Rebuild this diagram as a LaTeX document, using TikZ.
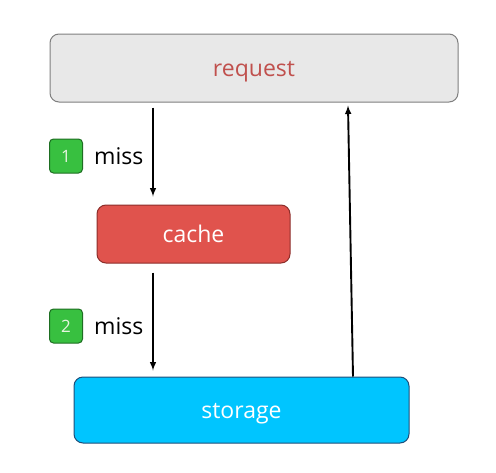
\documentclass[tikz,border=0pt]{standalone}
\usepackage{fontspec}
\setmainfont{Open Sans}
\usetikzlibrary{positioning}

\definecolor{reqfill}{HTML}{E8E8E8}
\definecolor{reqline}{HTML}{7F7F7F}
\definecolor{reqtext}{HTML}{C0504D}
\definecolor{cachefill}{HTML}{E0534D}
\definecolor{cacheline}{HTML}{8C2E2A}
\definecolor{storefill}{HTML}{00C5FF}
\definecolor{storeline}{HTML}{1F4E79}
\definecolor{badgefill}{HTML}{38C040}
\definecolor{badgeline}{HTML}{1E6E22}
\definecolor{badgetext}{HTML}{E6F5E0}

\tikzset{
  box/.style={draw, line width=1pt, rounded corners=9pt, inner sep=0pt,
    text height=18pt, text depth=1pt, font=\fontsize{23}{27}\selectfont},
  badge/.style={draw=badgeline, fill=badgefill, line width=1pt, rounded corners=4pt,
    minimum width=33pt, minimum height=34pt, inner sep=0pt, text=badgetext,
    font=\fontsize{17}{20}\selectfont},
  misslabel/.style={anchor=west, inner sep=0pt, font=\fontsize{23}{27}\selectfont},
  flow/.style={line width=1.9pt, -latex}
}

\begin{document}
\begin{tikzpicture}[x=1pt, y=-1pt]
    \useasboundingbox (0,0) rectangle (496,472);

    % Kutular
    \node[box, fill=reqfill, draw=reqline, text=reqtext,
      minimum width=408pt, minimum height=68pt] (request) at (254,68) {request};
    \node[box, fill=cachefill, draw=cacheline, text=white,
      minimum width=193pt, minimum height=58pt] (cache) at (193.5,234) {cache};
    \node[box, fill=storefill, draw=storeline, text=white,
      minimum width=335pt, minimum height=66pt] (storage) at (241.5,410) {storage};

    % Adimlar
    \node[badge] (one) at (66,156) {1};
    \node[misslabel] (miss1) at (94,156) {miss};
    \node[badge] (two) at (66,326) {2};
    \node[misslabel] (miss2) at (94,326) {miss};

    % Oklar
    \draw[flow] ([xshift=-101pt, yshift=-5pt]request.south) -- ([xshift=-40.5pt, yshift=8pt]cache.north);
    \draw[flow] ([xshift=-40.5pt, yshift=-9pt]cache.south) -- ([xshift=-88.5pt, yshift=6pt]storage.north);
    \draw[flow] ([xshift=111.5pt]storage.north) -- ([xshift=94pt, yshift=-3pt]request.south);
\end{tikzpicture}
\end{document}
